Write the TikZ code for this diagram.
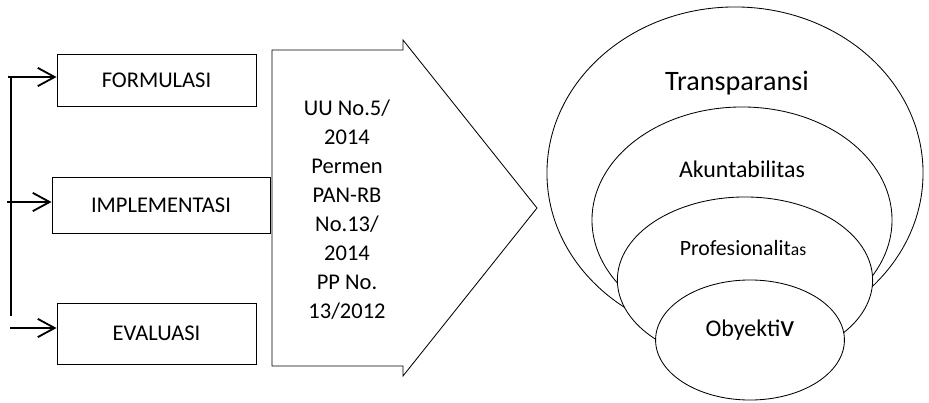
\documentclass[tikz,border=0pt]{standalone}
\usepackage{fontspec}
\setmainfont{Carlito}
\usetikzlibrary{arrows.meta}

\tikzset{
	box/.style={draw, line width=0.6pt, inner sep=0pt, font=\fontsize{16}{19}\selectfont},
	flow/.style={line width=1.3pt, -{Straight Barb[length=12pt,width=13pt]}},
	ring/.style={draw, fill=white, line width=0.6pt}
}

\begin{document}
\begin{tikzpicture}[x=0.025cm, y=-0.025cm]
	\useasboundingbox (0,0) rectangle (929,402);

	% the three stages
	\node[box, minimum width=4.975cm, minimum height=1.3cm] (formulasi) at (156.5,80){FORMULASI};
	\node[box, minimum width=5.45cm, minimum height=1.4cm] (implementasi) at (161,205){IMPLEMENTASI};
	\node[box, minimum width=4.975cm, minimum height=1.525cm] (evaluasi) at (156.5,333.5){EVALUASI};

	\coordinate (top) at (11,77);
	\coordinate (bot) at (11,316);
	\coordinate (in1) at (8,77);
	\coordinate (in2) at (7,202);
	\coordinate (in3) at (10,328);

	\draw[line width=1.3pt] (top) -- (bot);
		\draw[flow] (in1) -- (in1 -| formulasi.west);
		\draw[flow] (in2) -- (in2 -| implementasi.west);
		\draw[flow] (in3) -- (in3 -| evaluasi.west);

	% legal basis
	\draw[line width=0.6pt] (272,50) -- (403,50) -- (403,40) -- (537,208)
		-- (403,376) -- (403,366) -- (272,366) -- cycle;
	\node[align=center, font=\fontsize{16}{20.6}\selectfont] (dasar) at (347,210)
		{UU No.5/\\2014\\Permen\\PAN-RB\\No.13/\\2014\\PP No.\\13/2012};

	% principles
	\draw[ring] (735,173) ellipse [x radius=4.7cm, y radius=4.15cm];
	\draw[ring] (742,220) ellipse [x radius=3.75cm, y radius=2.825cm];
	\draw[ring] (745,280) ellipse [x radius=3.19cm, y radius=2.075cm];
	\draw[ring] (750,340) ellipse [x radius=2.36cm, y radius=1.5cm];

	\node[font=\fontsize{20}{24}\selectfont] (transparansi) at (737,83){Transparansi};
	\node[font=\fontsize{17}{20}\selectfont] (akuntabilitas) at (742,169){Akuntabilitas};
	\node[font=\fontsize{15.5}{18}\selectfont] (profesionalitas) at (743,248){Profesionalit{\fontsize{12.5}{14}\selectfont as}};
	\node[font=\fontsize{17}{20}\selectfont] (obyektiv) at (750,330){Obyekti{\fontsize{22}{24}\selectfont v}};

\end{tikzpicture}
\end{document}
